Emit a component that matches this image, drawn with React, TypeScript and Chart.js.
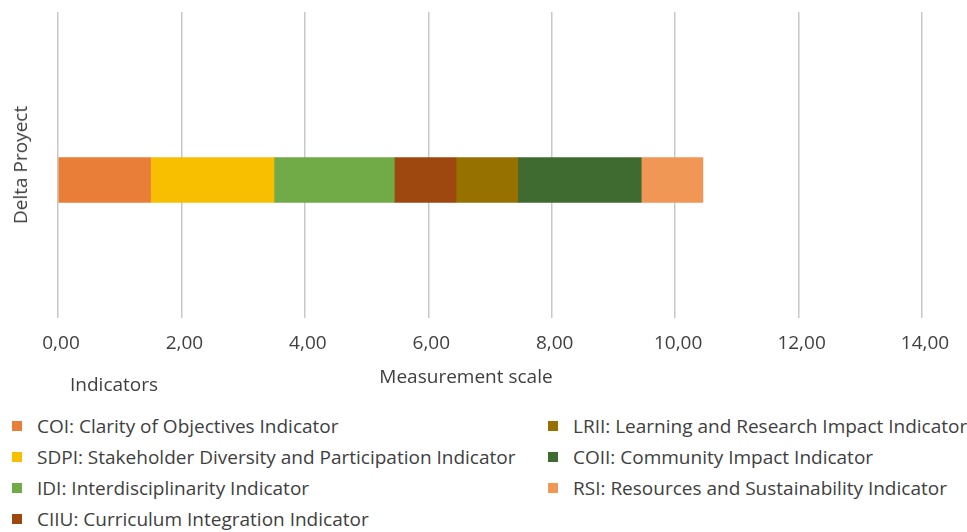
import React, { useEffect, useRef } from 'react';
import { Chart, registerables } from 'chart.js';

Chart.register(...registerables);

const categories = ['Delta Proyect'];
const seriesLabels = [
  'COI: Clarity of Objectives Indicator',
  'SDPI: Stakeholder Diversity and Participation Indicator',
  'IDI: Interdisciplinarity Indicator',
  'CIIU: Curriculum Integration Indicator',
  'LRII: Learning and Research Impact Indicator',
  'COII: Community Impact Indicator',
  'RSI: Resources and Sustainability Indicator',
];
const coiValues = [1.5];
const sdpiValues = [2.0];
const idiValues = [1.95];
const ciiuValues = [1.0];
const lriiValues = [1.0];
const coiiValues = [2.0];
const rsiValues = [1.0];
const seriesValues = [coiValues, sdpiValues, idiValues, ciiuValues, lriiValues, coiiValues, rsiValues];
const seriesColors = ['#E87E37', '#F8BF00', '#70AB47', '#9E480F', '#977100', '#3F6A30', '#F09755'];
const xMin = 0;
const xMax = 14;
const xStep = 2;
const xAxisTitle = 'Measurement scale';
const legendTitle = 'Indicators';

const FONT = '"Open Sans"';
const TEXT = '#404040';
const GRID = '#c8c8c8';

export default function App() {
  const ref = useRef<HTMLCanvasElement>(null);

  useEffect(() => {
    if (!ref.current) return;
    const chart = new Chart(ref.current, {
      type: 'bar',
      data: {
        labels: categories,
        datasets: seriesLabels.map((label, i) => ({
          label,
          data: seriesValues[i],
          backgroundColor: seriesColors[i],
          borderWidth: 0,
          barThickness: 45,
        })),
      },
      options: {
        indexAxis: 'y',
        responsive: false,
        animation: false,
        layout: { padding: { top: 12, right: 45, left: 8, bottom: 0 } },
        plugins: { legend: { display: false }, tooltip: { enabled: false } },
        scales: {
          x: {
            type: 'linear',
            position: 'bottom',
            stacked: true,
            min: xMin,
            max: xMax,
            ticks: {
              stepSize: xStep,
              color: TEXT,
              font: { family: FONT, size: 19 },
              padding: 14,
              labelOffset: 3,
              callback: (v: any) => Number(v).toFixed(2).replace('.', ','),
            },
            grid: { color: GRID, lineWidth: 1.5, drawTicks: false },
            border: { display: false },
            afterFit: (s: any) => { s.height = 50; },
          },
          xTop: {
            type: 'linear',
            position: 'top',
            min: xMin,
            max: xMax,
            ticks: { display: false, stepSize: xStep },
            grid: { color: GRID, lineWidth: 1.5, drawOnChartArea: false, drawTicks: true, tickLength: 30 },
            border: { display: false },
            afterFit: (s: any) => { s.height = 30; },
          },
          y: {
            stacked: true,
            ticks: { display: false },
            grid: { display: false },
            border: { display: false },
            title: { display: false },
            afterFit: (s: any) => { s.width = 50; },
          },
        },
      },
    });
    return () => chart.destroy();
  }, []);

  const leftItems = [0, 1, 2, 3];
  const rightItems = [4, 5, 6];
  const rowTop = 414;
  const rowGap = 31;

  const item = (i: number, row: number, x: number) => (
    <div
      key={i}
      style={{
        position: 'absolute',
        left: x,
        top: rowTop + row * rowGap,
        height: 24,
        display: 'flex',
        alignItems: 'center',
        whiteSpace: 'nowrap',
      }}
    >
      <span style={{ display: 'inline-block', width: 10, height: 10, background: seriesColors[i], marginRight: 15 }} />
      <span>{seriesLabels[i]}</span>
    </div>
  );

  return (
    <div
      style={{
        position: 'relative',
        width: 967,
        height: 532,
        overflow: 'hidden',
        fontFamily: FONT,
        color: TEXT,
        fontSize: 19,
      }}
    >
      <style>{'html,body{margin:0;padding:0;overflow:hidden;}'}</style>
      <canvas ref={ref} width={967} height={368} style={{ position: 'absolute', left: 0, top: 0 }} />
      <div style={{ position: 'absolute', left: 20, top: 165, width: 0, height: 0 }}>
        <div
          style={{
            position: 'absolute',
            left: 0,
            top: 0,
            whiteSpace: 'nowrap',
            fontSize: 19,
            lineHeight: '22px',
            transform: 'translate(-50%, -50%) rotate(-90deg)',
          }}
        >
          {categories[0]}
        </div>
      </div>
      <div style={{ position: 'absolute', left: 366, top: 364, width: 200, textAlign: 'center', lineHeight: '24px' }}>
        {xAxisTitle}
      </div>
      <div style={{ position: 'absolute', left: 70, top: 372, lineHeight: '24px' }}>{legendTitle}</div>
      {leftItems.map((i, r) => item(i, r, 12))}
      {rightItems.map((i, r) => item(i, r, 548))}
    </div>
  );
}
